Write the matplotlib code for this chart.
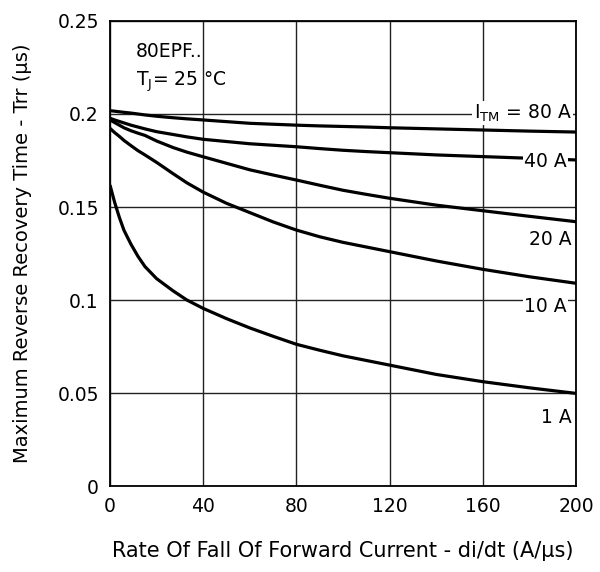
import matplotlib
matplotlib.use("Agg")
import matplotlib.pyplot as plt

# di/dt (A/us) sample points
didt = [0, 2, 4, 6, 9, 12, 15, 20, 27, 33, 40, 50, 60, 70, 80, 90, 100, 110, 120, 140, 160, 180, 200]

trr_80a = [0.2018, 0.2015, 0.2012, 0.2009, 0.2005, 0.2000, 0.1995, 0.1988, 0.1980, 0.1974, 0.1968, 0.1959,
           0.1950, 0.1945, 0.1940, 0.1936, 0.1933, 0.1930, 0.1926, 0.1920, 0.1914, 0.1908, 0.1903]
trr_40a = [0.1977, 0.1968, 0.1960, 0.1952, 0.1940, 0.1930, 0.1920, 0.1905, 0.1890, 0.1877, 0.1864, 0.1852,
           0.1840, 0.1832, 0.1824, 0.1814, 0.1805, 0.1798, 0.1792, 0.1780, 0.1771, 0.1762, 0.1753]
trr_20a = [0.1968, 0.1954, 0.1940, 0.1926, 0.1910, 0.1897, 0.1885, 0.1855, 0.1820, 0.1795, 0.1770, 0.1735,
           0.1700, 0.1672, 0.1645, 0.1617, 0.1590, 0.1568, 0.1547, 0.1510, 0.1480, 0.1450, 0.1421]
trr_10a = [0.1923, 0.1900, 0.1880, 0.1858, 0.1830, 0.1803, 0.1780, 0.1740, 0.1680, 0.1630, 0.1580, 0.1520,
           0.1470, 0.1420, 0.1376, 0.1340, 0.1310, 0.1285, 0.1260, 0.1210, 0.1165, 0.1125, 0.1090]
trr_1a = [0.1618, 0.1525, 0.1445, 0.1375, 0.1300, 0.1235, 0.1180, 0.1115, 0.1050, 0.1000, 0.0955, 0.0900,
          0.0850, 0.0805, 0.0762, 0.0730, 0.0700, 0.0675, 0.0650, 0.0600, 0.0561, 0.0528, 0.0498]

x_ticks = [0, 40, 80, 120, 160, 200]
y_ticks = [0, 0.05, 0.1, 0.15, 0.2, 0.25]
y_ticklabels = ['0', '0.05', '0.1', '0.15', '0.2', '0.25']

plt.rcParams['font.family'] = ['DejaVu Sans']

fig = plt.figure(figsize=(6, 5.72), dpi=100)
ax = fig.add_axes([0.1833, 0.1503, 0.7767, 0.813])

for trr in [trr_80a, trr_40a, trr_20a, trr_10a, trr_1a]:
    ax.plot(didt, trr, color='black', lw=2.3, solid_capstyle='butt', solid_joinstyle='round', zorder=3)

ax.set_xlim(0, 200)
ax.set_ylim(0, 0.25)
ax.set_xticks(x_ticks)
ax.set_yticks(y_ticks)
ax.set_yticklabels(y_ticklabels)
ax.tick_params(length=0, labelsize=13.5, pad=8)
ax.grid(True, color='#222222', lw=1.0, zorder=1)
for s in ax.spines.values():
    s.set_linewidth(1.3)
    s.set_zorder(4)

ax.set_xlabel('Rate Of Fall Of Forward Current - di/dt (A/µs)', fontsize=15, labelpad=18)
ax.set_ylabel('Maximum Reverse Recovery Time - Trr (µs)', fontsize=14, labelpad=18)

box = dict(facecolor='white', edgecolor='none', pad=1.0)
ax.text(11, 0.2335, '80EPF..', fontsize=13.5, va='center', ha='left')
ax.text(11, 0.2175, 'T$_\\mathregular{J}$= 25 °C', fontsize=13.5, va='center', ha='left')
ax.text(198, 0.2005, 'I$_\\mathregular{TM}$ = 80 A', fontsize=13.5, va='center', ha='right', bbox=box, zorder=5)
ax.text(196, 0.1745, '40 A', fontsize=13.5, va='center', ha='right', bbox=box, zorder=5)
ax.text(198, 0.1325, '20 A', fontsize=13.5, va='center', ha='right', bbox=box, zorder=5)
ax.text(196, 0.0965, '10 A', fontsize=13.5, va='center', ha='right', bbox=box, zorder=5)
ax.text(198, 0.0370, '1 A', fontsize=13.5, va='center', ha='right', bbox=box, zorder=5)

fig.savefig('out.png', dpi=100, facecolor='white')
